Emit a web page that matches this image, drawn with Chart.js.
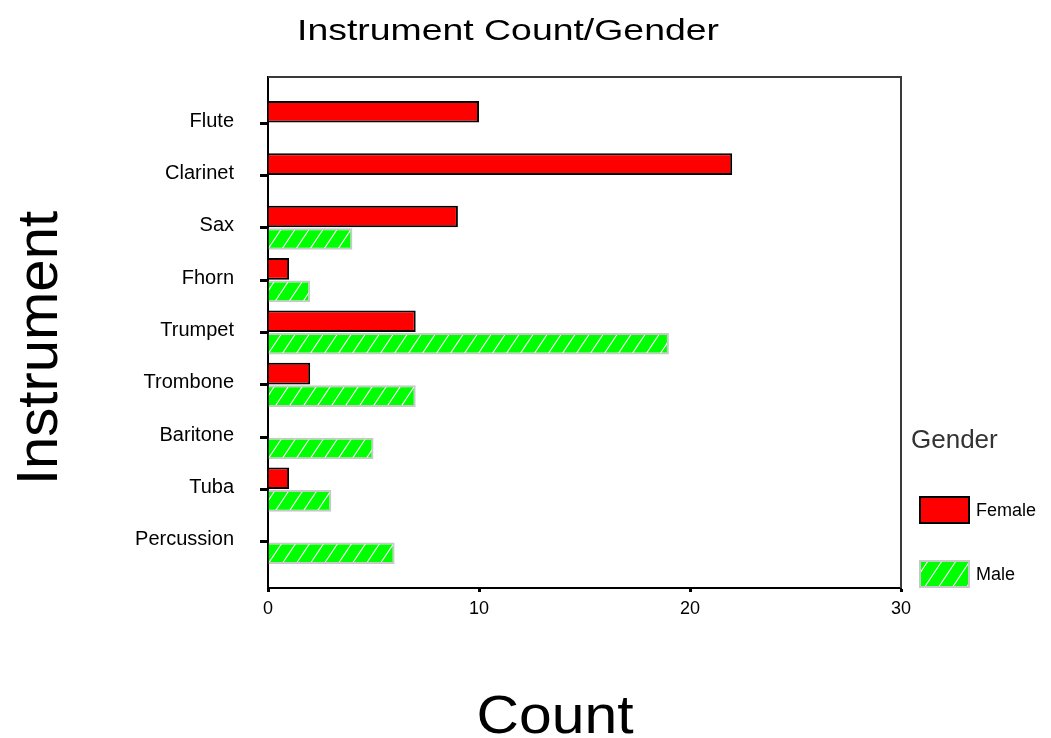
<!DOCTYPE html>
<html>
<head>
<meta charset="utf-8">
<title>Instrument Count/Gender</title>
<script src="https://cdn.jsdelivr.net/npm/chart.js@4/dist/chart.umd.min.js"></script>
<style>
  html, body { margin: 0; padding: 0; background: #fff; }
  canvas { display: block; }
</style>
</head>
<body>
<canvas id="chart" width="1051" height="738"></canvas>
<script>
const instruments = ["Flute", "Clarinet", "Sax", "Fhorn", "Trumpet", "Trombone", "Baritone", "Tuba", "Percussion"];
const femaleCounts = [10, 22, 9, 1, 7, 2, 0, 1, 0];
const maleCounts = [0, 0, 4, 2, 19, 7, 5, 3, 6];
const countTicks = [0, 10, 20, 30];

const FONT = '"Liberation Sans", Arial, sans-serif';

// white diagonal hatch on green, like the old SPSS fill
function makeHatch() {
  const c = document.createElement("canvas");
  c.width = 14; c.height = 21;
  const g = c.getContext("2d");
  g.fillStyle = "#00ff00";
  g.fillRect(0, 0, 14, 21);
  g.strokeStyle = "#ffffff";
  g.lineWidth = 1.1;
  g.beginPath();
  for (let dx = -14; dx <= 14; dx += 14) {
    g.moveTo(dx, 21);
    g.lineTo(dx + 14, 0);
  }
  g.stroke();
  return g.createPattern(c, "repeat");
}
const hatch = makeHatch();

// draw text stretched to a given width
function wideText(ctx, text, x, y, font, width) {
  ctx.save();
  ctx.font = font;
  const w = ctx.measureText(text).width;
  ctx.translate(x, y);
  ctx.scale(width / w, 1);
  ctx.textAlign = "center";
  ctx.fillText(text, 0, 0);
  ctx.restore();
}

const decorations = {
  id: "decorations",
  afterDraw(chart) {
    const ctx = chart.ctx;
    const a = chart.chartArea;
    ctx.save();

    // top and right frame
    ctx.strokeStyle = "#3a3a3a";
    ctx.lineWidth = 2;
    ctx.beginPath();
    ctx.moveTo(a.left, a.top);
    ctx.lineTo(a.right, a.top);
    ctx.lineTo(a.right, a.bottom);
    ctx.stroke();

    // titles
    ctx.fillStyle = "#000";
    ctx.textBaseline = "alphabetic";
    wideText(ctx, "Instrument Count/Gender", 508, 40, "29px " + FONT, 422);
    wideText(ctx, "Count", 555, 733, "53px " + FONT, 157);

    ctx.save();
    ctx.translate(57, 348);
    ctx.rotate(-Math.PI / 2);
    ctx.font = "58px " + FONT;
    ctx.textAlign = "center";
    ctx.fillText("Instrument", 0, 0);
    ctx.restore();

    // legend
    ctx.fillStyle = "#333";
    ctx.font = "26px " + FONT;
    ctx.textAlign = "left";
    ctx.fillText("Gender", 911, 448);

    const ds = chart.data.datasets;
    const rows = [496, 560];
    ds.forEach((d, i) => {
      const y = rows[i];
      ctx.fillStyle = d.backgroundColor;
      ctx.fillRect(919, y, 51, 28);
      ctx.strokeStyle = d.borderColor;
      ctx.lineWidth = 2;
      ctx.strokeRect(920, y + 1, 49, 26);
      ctx.fillStyle = "#000";
      ctx.font = "18px " + FONT;
      ctx.textBaseline = "middle";
      ctx.fillText(d.label, 976, y + 15);
      ctx.textBaseline = "alphabetic";
    });

    ctx.restore();
  }
};

new Chart(document.getElementById("chart"), {
  type: "bar",
  data: {
    datasets: [
      {
        label: "Female",
        data: femaleCounts.map((v, i) => ({ x: v, y: i })),
        backgroundColor: "#ff0000",
        borderColor: "#000000",
        borderWidth: 2
      },
      {
        label: "Male",
        data: maleCounts.map((v, i) => ({ x: v, y: i })),
        backgroundColor: hatch,
        borderColor: "#c8c8c8",
        borderWidth: 2
      }
    ]
  },
  options: {
    indexAxis: "y",
    responsive: false,
    animation: false,
    devicePixelRatio: 1,
    categoryPercentage: 0.86,
    barPercentage: 0.96,
    layout: { padding: { left: 0, top: 77, right: 150, bottom: 110 } },
    plugins: {
      legend: { display: false },
      title: { display: false },
      tooltip: { enabled: false }
    },
    scales: {
      x: {
        type: "linear",
        min: 0,
        max: 30,
        afterBuildTicks: (axis) => { axis.ticks = countTicks.map(v => ({ value: v })); },
        afterFit: (axis) => { axis.height = 40; },
        border: { color: "#000", width: 2 },
        grid: { drawOnChartArea: false, tickLength: 4, tickWidth: 3, tickColor: "#000" },
        ticks: { color: "#000", padding: 6, font: { family: FONT, size: 18 } }
      },
      y: {
        type: "linear",
        reverse: true,
        offset: false,
        min: -0.88,
        max: 8.88,
        afterBuildTicks: (axis) => { axis.ticks = instruments.map((_, i) => ({ value: i })); },
        afterFit: (axis) => { axis.width = 268; },
        border: { color: "#000", width: 2 },
        grid: { offset: false, drawOnChartArea: false, tickLength: 8, tickWidth: 3, tickColor: "#000" },
        ticks: {
          color: "#000",
          padding: 26,
          labelOffset: -2,
          font: { family: FONT, size: 20 },
          callback: (v) => instruments[v]
        }
      }
    }
  },
  plugins: [decorations]
});
</script>
</body>
</html>
